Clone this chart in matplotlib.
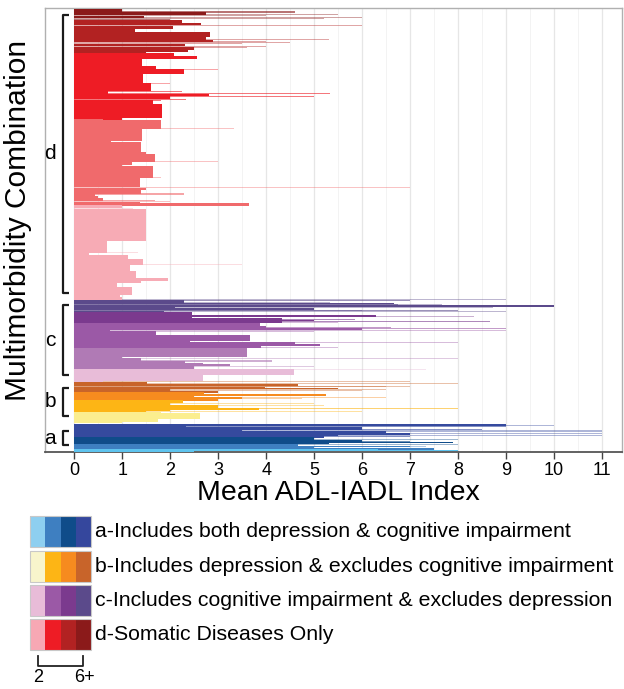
import matplotlib
matplotlib.use('Agg')
from matplotlib import pyplot as plt
from matplotlib.patches import Rectangle
from matplotlib.lines import Line2D

plt.rcParams['font.family'] = ['Liberation Sans', 'DejaVu Sans']

# each combination: (mean ADL-IADL index, prevalence, precision tier 1-3)
# listed top to bottom, levels from 6+ diseases down to 2
d_6plus = [(2.0, 1, 1), (1.0, 2, 3), (4.6, 1, 2), (2.75, 2, 3), (5.5, 1, 1), (4.0, 1, 1),
           (1.45, 1, 3), (6.0, 1, 1), (5.2, 1, 1), (2.0, 1, 2)]
d_5 = [(2.25, 3, 3), (2.65, 1.5, 3), (6.0, 1, 1), (1.7, 1, 2), (2.05, 2, 3), (1.27, 3, 3),
       (1.7, 1, 1), (2.83, 4, 3), (2.75, 2.5, 3), (5.3, 1, 1), (2.9, 1, 3), (4.0, 1, 1),
       (4.5, 1, 1), (3.5, 1, 1), (2.3, 1.5, 3), (4.0, 1, 1), (3.6, 1, 1), (2.5, 1.5, 3),
       (2.37, 2.5, 3), (1.5, 2, 3)]
d_4 = [(2.08, 3, 3), (2.56, 1.5, 3), (2.0, 1, 1), (1.4, 8, 3), (1.7, 2, 3), (3.0, 1, 1),
       (2.28, 3.5, 3), (1.0, 1.5, 2), (1.43, 8, 3), (2.0, 1, 1), (1.6, 7, 3), (2.25, 1, 2),
       (0.7, 1.5, 3), (5.33, 1, 2), (2.8, 1.5, 3), (5.0, 1, 2), (2.0, 2, 3), (2.33, 1, 2),
       (1.8, 1, 2), (1.64, 4, 3), (1.82, 13, 3), (1.0, 1.5, 3)]
d_3 = [(0.6, 1.5, 3), (1.8, 8, 3), (3.32, 1, 1), (1.4, 11, 3), (0.77, 2, 3), (1.38, 10, 3),
       (1.5, 2, 3), (1.68, 7, 3), (3.0, 1, 1), (1.2, 2, 3), (1.0, 2, 3), (1.64, 11, 3),
       (1.8, 1, 1), (1.37, 4, 3), (1.04, 2, 3), (1.37, 3, 3), (7.0, 1.5, 1), (1.5, 1, 3),
       (1.39, 4, 3), (2.28, 1, 2), (0.44, 2, 3), (0.5, 2, 3), (0.6, 2, 3), (1.68, 1, 2),
       (2.0, 1, 1), (1.37, 1.5, 3), (3.65, 2, 3)]
d_2 = [(0.99, 2, 3), (1.23, 1, 1), (0.8, 1, 2), (1.49, 31, 3), (0.67, 12, 3), (1.33, 1, 1),
       (0.3, 1.5, 3), (1.12, 1, 2), (1.11, 4, 3), (1.44, 4.5, 3), (3.49, 1, 1), (1.16, 6.5, 3),
       (1.29, 7, 3), (1.95, 2, 3), (1.39, 2, 3), (0.88, 5, 3), (1.2, 6.5, 3), (0.95, 3, 3),
       (1.0, 2, 3)]

c_6plus = [(9.0, 0.8, 1), (7.0, 0.8, 2), (2.28, 2, 3), (5.34, 0.6, 1), (6.67, 0.8, 3),
           (7.66, 0.6, 1), (6.75, 0.8, 2), (10.0, 0.7, 3), (5.46, 0.8, 2), (8.74, 0.6, 1),
           (2.1, 1.5, 3), (5.0, 0.8, 3), (6.0, 0.6, 1), (8.0, 0.8, 2), (9.0, 0.6, 1), (1.87, 1.2, 3)]
c_5 = [(2.45, 3, 3), (6.3, 0.7, 3), (8.33, 0.6, 1), (2.45, 1.5, 3), (4.34, 0.8, 3),
       (5.85, 0.6, 2), (5.0, 0.8, 3), (8.66, 0.6, 2), (4.34, 1, 3)]
c_4 = [(5.5, 0.8, 1), (3.88, 3, 3), (4.0, 1, 3), (6.6, 0.8, 2), (9.0, 0.8, 2), (6.0, 0.8, 3),
       (0.75, 0.8, 3), (9.0, 0.8, 1), (5.0, 0.8, 1), (1.71, 3, 3), (3.26, 1, 2), (3.67, 5, 3),
       (2.41, 1, 3), (8.0, 0.8, 1), (4.6, 1.5, 3), (5.13, 1, 3), (3.9, 2, 3), (5.5, 0.8, 1),
       (3.6, 1, 3)]
c_3 = [(3.6, 8, 3), (1.0, 1, 3), (8.0, 0.8, 1), (1.38, 2, 3), (4.12, 0.8, 2), (2.3, 2, 3),
       (2.68, 1.5, 3), (3.25, 1, 3), (5.0, 0.8, 1), (2.5, 2, 3)]
c_2 = [(7.34, 0.8, 1), (4.58, 5, 3), (4.0, 0.8, 1), (2.68, 5, 3), (0.6, 1.2, 3)]

b_5plus = [(7.0, 0.8, 1), (1.52, 1.5, 3), (8.0, 0.6, 1), (4.66, 1.5, 3), (6.5, 0.8, 1),
           (7.0, 0.6, 1), (3.97, 1, 3), (5.5, 0.8, 3), (6.5, 0.6, 1), (2.0, 1, 3),
           (6.0, 0.6, 1), (3.0, 1, 3)]
b_4 = [(2.7, 3, 3), (5.24, 0.7, 3), (2.5, 1, 3), (6.5, 0.7, 1), (3.5, 1, 3), (4.74, 0.7, 1),
       (3.0, 1.4, 3)]
b_3 = [(2.27, 2.5, 3), (5.0, 0.7, 1), (2.0, 1.5, 3), (5.2, 0.7, 1), (3.0, 2.5, 3),
       (8.0, 0.7, 2), (3.84, 1, 3), (2.0, 1, 3), (6.0, 0.7, 1), (1.5, 1, 3)]
b_2 = [(1.8, 1, 3), (2.62, 4.5, 3), (1.6, 1.5, 3), (1.75, 1.5, 3), (1.0, 1.5, 3)]

a_5plus = [(9.0, 0.7, 3), (10.0, 0.6, 1), (2.33, 0.5, 3), (9.0, 0.8, 2), (6.0, 2.0, 3),
           (8.5, 0.6, 2), (11.0, 0.7, 1), (3.5, 0.5, 3), (11.0, 0.6, 1), (4.0, 0.5, 3),
           (6.5, 0.8, 3), (11.0, 0.6, 1), (7.0, 0.8, 3), (5.5, 1.2, 3), (11.0, 0.6, 1),
           (7.0, 0.6, 2), (5.2, 1.2, 3)]
a_4 = [(5.0, 1.5, 3), (8.0, 0.6, 1), (2.0, 0.5, 3), (6.0, 1, 3), (7.0, 0.6, 2), (3.0, 0.5, 3),
       (7.9, 0.6, 3), (5.3, 1, 3), (8.0, 0.6, 1)]
a_3 = [(4.66, 1.5, 3), (7.0, 0.6, 3), (7.33, 0.6, 1), (5.0, 1, 3), (7.5, 0.8, 3)]
a_2 = [(6.33, 1, 3), (8.0, 0.5, 3), (2.5, 1, 3)]

group_labels = ['d', 'c', 'b', 'a']
group_levels = [[d_6plus, d_5, d_4, d_3, d_2],
                [c_6plus, c_5, c_4, c_3, c_2],
                [b_5plus, b_4, b_3, b_2],
                [a_5plus, a_4, a_3, a_2]]
group_colors = [['#8B1A1A', '#B22222', '#EE1C25', '#F06A6C', '#F7ABB5'],
                ['#5B4A8B', '#7B3A8E', '#9B59A6', '#B07AB5', '#E8BCD8'],
                ['#C8642A', '#F68B1F', '#FDB515', '#FBEE8F'],
                ['#354A9E', '#0F4C8A', '#3E7FC1', '#5EC3EE']]

legend_text = ['a-Includes both depression & cognitive impairment',
               'b-Includes depression & excludes cognitive impairment',
               'c-Includes cognitive impairment & excludes depression',
               'd-Somatic Diseases Only']
legend_keys = [['#8ECFF0', '#3E7FC1', '#0F4C8A', '#35479D'],
               ['#F8F5CC', '#FDB515', '#F68B1F', '#C8642A'],
               ['#E8BCD8', '#9B59A6', '#7B3A8E', '#5B4A8B'],
               ['#F7A8B4', '#EE1C25', '#B22222', '#8B1A1A']]

W, H = 624, 689
fig = plt.figure(figsize=(W / 100, H / 100), dpi=100)
ax = fig.add_axes([45 / W, 1 - 452 / H, 577 / W, 444 / H])

tier_alpha = {1: 0.4, 2: 0.6, 3: 1.0}
tier_pad = {1: 0.0, 2: 0.2, 3: 1.0}
tier_z = {1: 2, 2: 2.5, 3: 3}

cursor = 0.0
spans = []
for gi, levels in enumerate(group_levels):
    if group_labels[gi] == 'a':
        cursor += 2
    start = cursor
    for li, level in enumerate(levels):
        col = group_colors[gi][li]
        for mean, prev, tier in level:
            h = max(prev, 1.0) if tier < 3 else prev
            ax.barh(cursor + prev / 2, mean, height=h + tier_pad[tier], color=col,
                    alpha=tier_alpha[tier], linewidth=0, zorder=tier_z[tier])
            cursor += prev
    spans.append((start, cursor))

total = cursor
ax.set_ylim(total + 0.5, -0.5)
ax.set_xlim(-0.6125, 11.42)

# group brackets
for lab, (s, e) in zip(group_labels, spans):
    y0, y1 = s + 6.5, e - 6.5
    ax.plot([-0.11, -0.245, -0.245, -0.11], [y0, y0, y1, y1], color='#1a1a1a',
            lw=1.6, solid_capstyle='butt', zorder=5)
    ax.text(-0.5, (s + e) / 2, lab, fontsize=15, ha='center', va='center')

ax.set_xticks(range(12))
ax.set_xticks([i + 0.5 for i in range(11)], minor=True)
ax.set_yticks([])
ax.grid(axis='x', which='major', color='#E6E6E6', lw=0.9, zorder=0)
ax.grid(axis='x', which='minor', color='#F3F3F3', lw=0.7, zorder=0)
ax.set_axisbelow(True)
ax.tick_params(axis='x', which='major', labelsize=13, length=5, width=1,
               color='#444444', pad=2)
ax.tick_params(axis='x', which='minor', length=0)
for side in ['top', 'left', 'right']:
    ax.spines[side].set_color('#B0B0B0')
    ax.spines[side].set_linewidth(1.0)
ax.spines['bottom'].set_color('#555555')
ax.spines['bottom'].set_linewidth(1.3)

ax.set_xlabel('Mean ADL-IADL Index', fontsize=20.5)
ax.xaxis.set_label_coords(0.508, -0.064)
fig.text(18 / W, 1 - 220 / H, 'Multimorbidity Combination', fontsize=21.5,
         rotation=90, ha='center', va='center')

# legend
row_tops = [516, 551, 585, 619]
cell_w, cell_h = 15.25, 31
for keys, text, top in zip(legend_keys, legend_text, row_tops):
    for k, col in enumerate(keys):
        fig.patches.append(Rectangle(((30 + k * cell_w) / W, 1 - (top + cell_h) / H),
                                     cell_w / W, cell_h / H, transform=fig.transFigure,
                                     facecolor=col, edgecolor='none'))
    fig.patches.append(Rectangle((30 / W, 1 - (top + cell_h) / H), 4 * cell_w / W,
                                 cell_h / H, transform=fig.transFigure,
                                 facecolor='none', edgecolor='#C8C8C8', lw=0.8))
    fig.text(95 / W, 1 - (top + cell_h / 2) / H, text, fontsize=15.3, ha='left', va='center')

fig.lines.append(Line2D([38 / W, 38 / W, 83 / W, 83 / W],
                        [1 - 656 / H, 1 - 666 / H, 1 - 666 / H, 1 - 656 / H],
                        transform=fig.transFigure, color='#222222', lw=1.3))
fig.text(38 / W, 1 - 678 / H, '2', fontsize=13, ha='center', va='center')
fig.text(84 / W, 1 - 678 / H, '6+', fontsize=13, ha='center', va='center')

fig.savefig('out.png', dpi=100)
